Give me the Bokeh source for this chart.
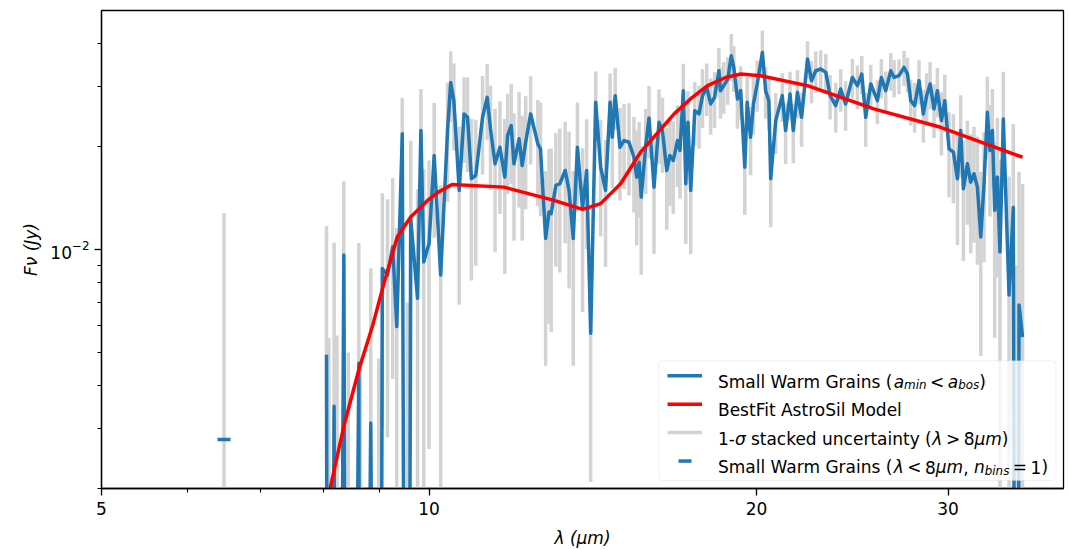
import numpy as np
from bokeh.plotting import figure
from bokeh.models import FixedTicker, BoxAnnotation, Label, NumeralTickFormatter
from bokeh.embed import file_html
from bokeh.resources import INLINE

# ---------------- data ----------------
wavelength = [
    8.05, 8.09, 8.18, 8.23, 8.35, 8.43, 8.62, 8.65, 8.84, 8.99,
    9.06, 9.16, 9.26, 9.34, 9.45, 9.55, 9.62, 9.76, 9.83, 9.89,
    10.00, 10.11, 10.25, 10.40, 10.47, 10.54, 10.66, 10.77, 10.85, 10.94,
    11.04, 11.20, 11.31, 11.39, 11.50, 11.62, 11.74, 11.81, 11.90, 11.97,
    12.10, 12.18, 12.27, 12.40, 12.59, 12.66, 12.80, 12.89, 12.95, 13.08,
    13.19, 13.34, 13.45, 13.57, 13.69, 13.84, 13.96, 14.08, 14.23, 14.38,
    14.53, 14.67, 14.74, 14.83, 14.98, 15.11, 15.27, 15.43, 15.52, 15.60,
    15.67, 15.82, 15.93, 16.10, 16.27, 16.39, 16.54, 16.65, 16.77, 16.92,
    17.01, 17.13, 17.22, 17.30, 17.40, 17.55, 17.71, 17.84, 18.00, 18.15,
    18.30, 18.47, 18.53, 18.66, 18.82, 18.96, 19.06, 19.21, 19.34, 19.51,
    19.61, 19.75, 19.87, 20.03, 20.25, 20.39, 20.53, 20.61, 20.83, 21.12,
    21.27, 21.47, 21.62, 21.81, 22.00, 22.28, 22.47, 22.67, 22.91, 23.16,
    23.37, 23.65, 23.90, 24.15, 24.50, 24.76, 24.99, 25.20, 25.47, 25.83,
    26.05, 26.29, 26.57, 26.76, 27.04, 27.33, 27.53, 27.72, 27.95, 28.21,
    28.47, 28.67, 28.88, 29.12, 29.33, 29.58, 29.79, 30.06, 30.34, 30.60,
    30.81, 30.99, 31.25, 31.47, 31.69, 31.92, 32.15, 32.37, 32.60, 32.78,
    32.95, 33.11, 33.30, 33.48, 33.72, 34.13, 34.44, 34.69, 34.86, 35.12,
]
# negative values: points that fall below the plotted range (clipped, like a log axis does)
flux = [
    0.00492, -0.001, 0.00348, -0.001, 0.00963, -0.001, 0.00465, -0.001, 0.00311, -0.001,
    0.00880, 0.00842, 0.01018, 0.00595, 0.02179, -0.001, 0.01231, 0.00720, 0.02227, 0.00920,
    0.01041, 0.01883, 0.00842, 0.02227, 0.03081, 0.02724, 0.01489, 0.02492, 0.02436, 0.01611,
    0.01647, 0.02436, 0.02786, 0.02253, 0.01781, 0.01991, 0.01628, 0.02154, 0.02304, 0.01781,
    0.02107, 0.01761, 0.02059, 0.02492, 0.02037, 0.01970, 0.01077, 0.01287, 0.01274, 0.01540,
    0.01557, 0.01703, 0.01489, 0.01077, 0.01991, 0.01317, 0.01703, 0.00569, 0.02694, 0.01741,
    0.01489, 0.02694, 0.02130, 0.02818, 0.01991, 0.02083, 0.02059, 0.01862, 0.01628, 0.01800,
    0.01423, 0.02014, 0.02426, 0.01522, 0.02355, 0.02227, 0.01703, 0.01883, 0.01821, 0.02083,
    0.01948, 0.02914, 0.01557, 0.02355, 0.01489, 0.02547, 0.02492, 0.02818, 0.02979, 0.02665,
    0.02786, 0.03333, 0.02914, 0.03013, 0.03151, 0.03686, 0.03408, 0.02756, 0.02914, 0.01741,
    0.02694, 0.02130, 0.02665, 0.03048, 0.03768, 0.02914, 0.02724, 0.01611, 0.02382, 0.02818,
    0.02227, 0.02850, 0.02227, 0.02881, 0.02436, 0.03605, 0.03116, 0.03333, 0.03372, 0.03296,
    0.02818, 0.02635, 0.02948, 0.02665, 0.03185, 0.03013, 0.03260, 0.02436, 0.03048, 0.02724,
    0.03185, 0.02914, 0.03333, 0.03185, 0.03223, 0.03408, 0.03260, 0.02724, 0.02635, 0.03116,
    0.02492, 0.02818, 0.03048, 0.02577, 0.02914, 0.02382, 0.02724, 0.01970, 0.01926, 0.01611,
    0.02227, 0.01506, 0.01781, 0.01574, 0.01666, 0.01522, 0.01088, 0.01557, 0.02518, 0.01948,
    0.02227, 0.01302, 0.01628, 0.00984, 0.02409, 0.00736, 0.01328, -0.001, 0.00688, 0.00555,
]
sigma = [
    0.0068, 0.0065, 0.0070, 0.0066, 0.0062, 0.0060, 0.0058, 0.0058, 0.0057, 0.0058,
    0.0058, 0.0056, 0.0060, 0.0056, 0.0060, 0.0080, 0.0085, 0.0078, 0.0072, 0.0080,
    0.0078, 0.0080, 0.0070, 0.0085, 0.0072, 0.0078, 0.0080, 0.0070, 0.0075, 0.0080,
    0.0075, 0.0078, 0.0070, 0.0076, 0.0080, 0.0072, 0.0078, 0.0070, 0.0075, 0.0072,
    0.0078, 0.0070, 0.0075, 0.0072, 0.0070, 0.0072, 0.0062, 0.0068, 0.0070, 0.0065,
    0.0070, 0.0066, 0.0072, 0.0062, 0.0070, 0.0066, 0.0070, 0.0036, 0.0062, 0.0065,
    0.0060, 0.0058, 0.0062, 0.0058, 0.0060, 0.0058, 0.0062, 0.0058, 0.0060, 0.0056,
    0.0058, 0.0056, 0.0058, 0.0055, 0.0058, 0.0055, 0.0056, 0.0054, 0.0055, 0.0056,
    0.0054, 0.0058, 0.0052, 0.0055, 0.0052, 0.0054, 0.0052, 0.0055, 0.0052, 0.0050,
    0.0052, 0.0055, 0.0050, 0.0052, 0.0050, 0.0058, 0.0052, 0.0050, 0.0052, 0.0048,
    0.0050, 0.0048, 0.0050, 0.0052, 0.0060, 0.0050, 0.0048, 0.0045, 0.0048, 0.0046,
    0.0045, 0.0046, 0.0044, 0.0046, 0.0044, 0.0046, 0.0044, 0.0046, 0.0045, 0.0044,
    0.0042, 0.0044, 0.0042, 0.0044, 0.0042, 0.0044, 0.0042, 0.0044, 0.0042, 0.0040,
    0.0042, 0.0040, 0.0042, 0.0040, 0.0038, 0.0040, 0.0038, 0.0042, 0.0044, 0.0046,
    0.0044, 0.0046, 0.0048, 0.0046, 0.0048, 0.0050, 0.0052, 0.0055, 0.0056, 0.0058,
    0.0060, 0.0058, 0.0060, 0.0060, 0.0062, 0.0062, 0.0060, 0.0064, 0.0068, 0.0070,
    0.0072, 0.0075, 0.0080, 0.0085, 0.0090, 0.0090, 0.0100, 0.0100, 0.0100, 0.0100,
]
model_wavelength = [8.10, 8.35, 8.62, 8.87, 9.09, 9.35, 9.62, 9.97, 10.19, 10.50,
                    11.72, 13.03, 13.84, 14.38, 15.00, 15.65, 15.99, 16.80, 17.40,
                    18.03, 18.73, 19.34, 20.18, 22.28, 25.64, 29.53, 35.12]
model_flux = [0.00196, 0.00304, 0.00445, 0.00595, 0.00796, 0.01088, 0.01245, 0.01392,
              0.01469, 0.01550, 0.01522, 0.01392, 0.01310, 0.01362, 0.01557, 0.01926,
              0.02083, 0.02492, 0.02760, 0.03013, 0.03185, 0.03260, 0.03223, 0.03013,
              0.02577, 0.02277, 0.01862]
short_wavelength = [6.48]
short_flux = [0.00278]
short_sigma = [0.0100]

x_range = (5.0, 38.3)
y_range = (0.002, 0.05)
x_major_ticks = [5, 10, 20, 30]
x_minor_ticks = [6, 7, 8, 9]
y_major_ticks = [0.01]
y_minor_ticks = [0.002, 0.003, 0.004, 0.005, 0.006, 0.007, 0.008, 0.009, 0.02, 0.03, 0.04]
x_label = "\u03bb (\u03bcm)"
y_label = "F\u03bd (Jy)"

# legend rows: (text, style, relative size, subscript drop px)
legend_rows = [
    [("Small Warm Grains (", "normal", 1.0, 0), ("a", "italic", 1.0, 0), ("min", "italic", 0.7, 3.5),
     ("<", "normal", 1.0, 0), ("a", "italic", 1.0, 0), ("bos", "italic", 0.7, 3.5), (")", "normal", 1.0, 0)],
    [("BestFit AstroSil Model", "normal", 1.0, 0)],
    [("1-", "normal", 1.0, 0), ("\u03c3", "italic", 1.0, 0), (" stacked uncertainty (", "normal", 1.0, 0),
     ("\u03bb", "italic", 1.0, 0), (">", "normal", 1.0, 0), ("8", "normal", 1.0, 0),
     ("\u03bcm", "italic", 1.0, 0), (")", "normal", 1.0, 0)],
    [("Small Warm Grains (", "normal", 1.0, 0), ("\u03bb", "italic", 1.0, 0), ("<", "normal", 1.0, 0),
     ("8", "normal", 1.0, 0), ("\u03bcm", "italic", 1.0, 0), (", ", "normal", 1.0, 0),
     ("n", "italic", 1.0, 0), ("bins", "italic", 0.7, 3.5), ("=", "normal", 1.0, 0),
     ("1", "normal", 1.0, 0), (")", "normal", 1.0, 0)],
]

# ---------------- style ----------------
BLUE, RED, GRAY = "#1f77b4", "#ff0000", "#d3d3d3"
FONT = "DejaVu Sans"
FS = 17
W, H = 1069, 550
BL, BR, BT, BB = 101, 6, 10, 61
FW, FH = W - BL - BR, H - BT - BB

p = figure(width=W, height=H, x_axis_type="log", y_axis_type="log",
           x_range=x_range, y_range=y_range, output_backend="svg",
           toolbar_location=None, min_border_left=BL, min_border_right=BR,
           min_border_top=BT, min_border_bottom=BB)
p.grid.visible = False
p.background_fill_color = "white"
p.border_fill_color = "white"
p.outline_line_color = "black"
p.outline_line_width = 1.3
p.outline_line_alpha = 1.0

p.xaxis.ticker = FixedTicker(ticks=x_major_ticks, minor_ticks=x_minor_ticks)
p.xaxis.formatter = NumeralTickFormatter(format="0")
p.yaxis.ticker = FixedTicker(ticks=y_major_ticks, minor_ticks=y_minor_ticks)
p.xaxis.axis_label = x_label
p.yaxis.axis_label = y_label
for ax in (p.xaxis[0], p.yaxis[0]):
    ax.axis_line_width = 1.3
    ax.major_tick_out = 7
    ax.major_tick_in = 0
    ax.minor_tick_out = 4
    ax.minor_tick_in = 0
    ax.major_tick_line_width = 1.3
    ax.minor_tick_line_width = 1.1
    ax.major_label_text_font = FONT
    ax.major_label_text_font_size = f"{FS}px"
    ax.major_label_text_color = "black"
    ax.axis_label_text_font = FONT
    ax.axis_label_text_font_size = f"{FS}px"
    ax.axis_label_text_font_style = "italic"
    ax.axis_label_text_color = "black"
p.xaxis.major_label_standoff = 6
p.xaxis.axis_label_standoff = 10
p.yaxis.major_label_standoff = 5
p.yaxis.axis_label_standoff = 6

# ---------------- data marks ----------------
floor = 1e-6
lam = np.array(wavelength)
f = np.array(flux)
s = np.array(sigma)
p.segment(lam, np.clip(f - s, floor, None), lam, f + s, line_color=GRAY, line_width=3.5)
sl = np.array(short_wavelength)
sf = np.array(short_flux)
ss = np.array(short_sigma)
p.segment(sl, np.clip(sf - ss, floor, None), sl, sf + ss, line_color=GRAY, line_width=3.5)
p.line(lam, np.clip(f, floor, None), line_color=BLUE, line_width=3.5, line_join="round")
p.line(model_wavelength, model_flux, line_color=RED, line_width=3.5, line_join="round")
p.scatter(sl, sf, marker="dash", size=13, line_color=BLUE, line_width=3.5)

# ---------------- legend (drawn by hand) ----------------
def lam_at(px):
    a, b = np.log10(x_range[0]), np.log10(x_range[1])
    return float(10 ** (a + px / FW * (b - a)))

def flux_at(py):
    a, b = np.log10(y_range[0]), np.log10(y_range[1])
    return float(10 ** (b - py / FH * (b - a)))

ADV = {' ': 651, '(': 799, ')': 799, '-': 739, ',': 651, '<': 1716, '>': 1716, '=': 1716,
       '1': 1303, '8': 1303, 'S': 1300, 'm': 1995, 'a': 1255, 'l': 569, 'W': 2025, 'r': 842,
       'G': 1577, 'i': 569, 'n': 1298, 's': 1067, 'B': 1405, 'e': 1260, 'F': 1178, 't': 803,
       'A': 1401, 'o': 1253, 'M': 1767, 'd': 1300, 'c': 1126, 'k': 1186, 'u': 1298, 'y': 1212,
       'b': 1300, '\u03bb': 1212, '\u03bc': 1300, '\u03c3': 1268}

def adv(txt, size):
    return sum(ADV.get(ch, 1250) for ch in txt) / 2048.0 * size

box_right = FW - 7.5
box_bottom = FH - 8.0
box_w, box_h = 397.0, 120.0
box_left = box_right - box_w
box_top = box_bottom - box_h
p.add_layout(BoxAnnotation(left=lam_at(box_left), right=lam_at(box_right),
                           top=flux_at(box_top), bottom=flux_at(box_bottom),
                           fill_color="white", fill_alpha=0.8, line_color="#cccccc",
                           line_width=1, border_radius=4, level="annotation"))

row_centers = [15.0, 43.5, 72.0, 100.5]
handle_colors = [BLUE, RED, GRAY]
for i, c in enumerate(handle_colors):
    yc = flux_at(box_top + row_centers[i])
    p.line([lam_at(box_left + 8.5), lam_at(box_left + 43.0)], [yc, yc],
           line_color=c, line_width=3.5, level="overlay")
p.scatter([lam_at(box_left + 26.0)], [flux_at(box_top + row_centers[3])], marker="dash",
          size=13, line_color=BLUE, line_width=3.5, level="overlay")

REL_GAP = 3.5
for i, pieces in enumerate(legend_rows):
    x = box_left + 59.0
    base = box_top + row_centers[i] + 6.0
    for txt, style, scale, drop in pieces:
        size = FS * scale
        rel = txt in ("<", ">", "=")
        if rel:
            x += REL_GAP
        lead = len(txt) - len(txt.lstrip(' '))
        shown = txt.strip(' ')
        x_text = x + lead * 651 / 2048.0 * size
        p.add_layout(Label(x=lam_at(x_text), y=flux_at(base + drop), text=shown,
                           text_font=FONT, text_font_size=f"{size:.1f}px",
                           text_font_style=style, text_baseline="alphabetic",
                           text_align="left", text_color="black", level="overlay"))
        x += adv(txt, size) + (REL_GAP if rel else 0.0)

open("out.html", "w", encoding="utf-8").write(file_html(p, INLINE))
